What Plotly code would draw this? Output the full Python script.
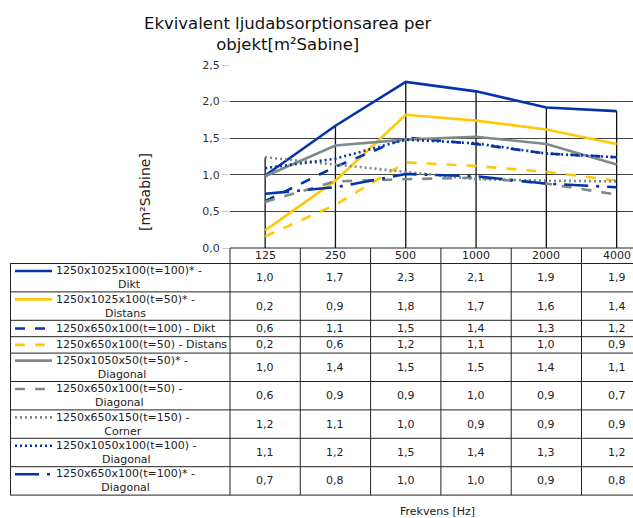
import plotly.graph_objects as go

# ---- data ----
freqs = ["125", "250", "500", "1000", "2000", "4000"]
series_names = [
    "1250x1025x100(t=100)* -<br>Dikt",
    "1250x1025x100(t=50)* -<br>Distans",
    "1250x650x100(t=100) - Dikt",
    "1250x650x100(t=50) - Distans",
    "1250x1050x50(t=50)* -<br>Diagonal",
    "1250x650x100(t=50) -<br>Diagonal",
    "1250x650x150(t=150) -<br>Corner",
    "1250x1050x100(t=100) -<br>Diagonal",
    "1250x650x100(t=100)* -<br>Diagonal",
]
s1 = [0.99, 1.67, 2.27, 2.14, 1.92, 1.87]
s2 = [0.24, 0.92, 1.82, 1.74, 1.62, 1.42]
s3 = [0.64, 1.11, 1.51, 1.42, 1.29, 1.24]
s4 = [0.16, 0.59, 1.17, 1.12, 1.04, 0.92]
s5 = [0.98, 1.40, 1.48, 1.52, 1.42, 1.14]
s6 = [0.63, 0.91, 0.94, 0.96, 0.88, 0.73]
s7 = [1.24, 1.14, 1.03, 0.94, 0.92, 0.91]
s8 = [1.09, 1.22, 1.48, 1.43, 1.29, 1.24]
s9 = [0.74, 0.83, 1.01, 0.98, 0.88, 0.83]
series_values = [s1, s2, s3, s4, s5, s6, s7, s8, s9]

title_text = "Ekvivalent ljudabsorptionsarea per<br>objekt[m²Sabine]"
y_title = "[m²Sabine]"
x_title = "Frekvens [Hz]"

# ---- styles ----
BLUE = "#0533A8"
YELLOW = "#FFC80A"
GRAY = "#7C8B87"
styles = [
    (BLUE, "solid"), (YELLOW, "solid"),
    (BLUE, "10px,10px"), (YELLOW, "10px,10px"),
    (GRAY, "solid"), (GRAY, "10px,10px"),
    (GRAY, "2px,3px"), (BLUE, "2px,3px"),
    (BLUE, "24px,8px,3px,8px"),
]
FONT = "DejaVu Sans"

W, H = 633, 518
L, T, B = 230, 65, 248
XR = [-0.5, -0.5 + (W - L) / 70.3]


def px_x(px):
    return (px - L) / (W - L)


def px_y(py):
    return (B - py) / (B - T)


def dx_to_paper(x):
    return (x - XR[0]) / (XR[1] - XR[0])


fig = go.Figure()
xs = list(range(len(freqs)))

# drop lines from 0 to max at each category
dl_x, dl_y = [], []
for i in xs:
    m = max(s[i] for s in series_values)
    dl_x += [i, i, None]
    dl_y += [0, m, None]
fig.add_trace(go.Scatter(x=dl_x, y=dl_y, mode="lines",
                         line=dict(color="#111", width=1.3),
                         hoverinfo="skip", showlegend=False))

for vals, name, (col, dash) in zip(series_values, series_names, styles):
    fig.add_trace(go.Scatter(x=xs, y=vals, mode="lines", name=name.replace("<br>", " "),
                             line=dict(color=col, width=2.6, dash=dash),
                             showlegend=False))

shapes = []
annotations = []
LC = "#222"

# table geometry
header_top, header_bot = 248, 263.5
rows = []
y = header_bot
for name in series_names:
    h = 28.4 if "<br>" in name else 16.4
    rows.append((y, y + h))
    y += h
table_bot = y

# horizontal lines
shapes.append(dict(type="line", xref="paper", yref="paper",
                   x0=0, x1=1.05, y0=px_y(header_top), y1=px_y(header_top),
                   line=dict(color=LC, width=1)))
for r0 in [header_bot] + [r[1] for r in rows]:
    shapes.append(dict(type="line", xref="paper", yref="paper",
                       x0=px_x(10), x1=1.05, y0=px_y(r0), y1=px_y(r0),
                       line=dict(color=LC, width=1)))
# vertical lines
shapes.append(dict(type="line", xref="paper", yref="paper",
                   x0=px_x(10.5), x1=px_x(10.5), y0=px_y(header_bot), y1=px_y(table_bot),
                   line=dict(color=LC, width=1)))
for i in range(len(freqs) + 1):
    xp = dx_to_paper(i - 0.5)
    if xp > 1.01:
        continue
    shapes.append(dict(type="line", xref="paper", yref="paper",
                       x0=xp, x1=xp, y0=px_y(header_top), y1=px_y(table_bot),
                       line=dict(color=LC, width=1)))

# header labels
for i, f in enumerate(freqs):
    annotations.append(dict(x=i, xref="x", y=px_y((header_top + header_bot) / 2), yref="paper",
                            text=f, showarrow=False, xanchor="center", yanchor="middle",
                            font=dict(family=FONT, size=11, color="#222")))

# rows: legend samples, labels, values
for (r0, r1), name, vals, (col, dash) in zip(rows, series_names, series_values, styles):
    two = "<br>" in name
    ly = r0 + 7.5 if two else (r0 + r1) / 2
    shapes.append(dict(type="line", xref="paper", yref="paper",
                       x0=px_x(15), x1=px_x(52), y0=px_y(ly), y1=px_y(ly),
                       line=dict(color=col, width=2.6, dash=dash)))
    annotations.append(dict(x=px_x(54), xref="paper", y=px_y((r0 + r1) / 2), yref="paper",
                            text=name, showarrow=False, xanchor="left", yanchor="middle",
                            align="center",
                            font=dict(family=FONT, size=11, color="#222")))
    for i, v in enumerate(vals):
        annotations.append(dict(x=i, xref="x", y=px_y((r0 + r1) / 2), yref="paper",
                                text=f"{v:.1f}".replace(".", ","), showarrow=False,
                                xanchor="center", yanchor="middle",
                                font=dict(family=FONT, size=11, color="#222")))

# title, axis title & x title
annotations.append(dict(x=px_x(288), xref="paper", y=px_y(34.5), yref="paper",
                        text=title_text, showarrow=False,
                        xanchor="center", yanchor="middle", align="center",
                        font=dict(family=FONT, size=16.5, color="#111")))
annotations.append(dict(x=px_x(145), xref="paper", y=px_y(192), yref="paper",
                        text=y_title, showarrow=False, textangle=-90,
                        xanchor="center", yanchor="middle",
                        font=dict(family=FONT, size=14, color="#222")))
annotations.append(dict(x=px_x(437), xref="paper", y=px_y(512), yref="paper",
                        text=x_title, showarrow=False,
                        xanchor="center", yanchor="middle",
                        font=dict(family=FONT, size=11, color="#222")))

fig.update_layout(
    width=W, height=H,
    margin=dict(l=L, r=0, t=T, b=H - B, pad=0),
    paper_bgcolor="white", plot_bgcolor="white",
    separators=", ",
    xaxis=dict(range=XR, showticklabels=False, showgrid=False, zeroline=False,
               showline=False, ticks=""),
    yaxis=dict(range=[0, 2.5], dtick=0.5, tickformat=".1f", showgrid=True,
               gridcolor="#444", gridwidth=1, zeroline=False, showline=False,
               ticks="outside", ticklen=7, tickcolor="#ccc",
               tickfont=dict(family=FONT, size=11, color="#333")),
    shapes=shapes,
    annotations=annotations,
    showlegend=False,
)

fig.write_html("out.html", config={"displayModeBar": False},
               post_script="document.body.style.margin='0';")
